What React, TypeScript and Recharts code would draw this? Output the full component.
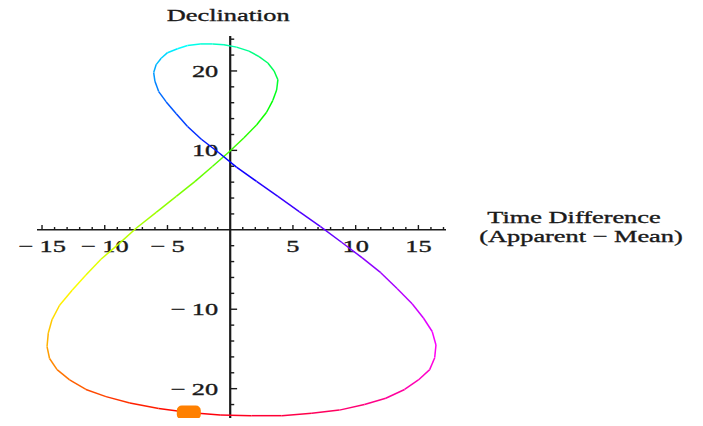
import React from 'react'
import { ScatterChart, Scatter, XAxis, YAxis, ReferenceLine, ReferenceDot } from 'recharts'

// sample dates, one every 5 days
const dates = [
  'Jan 1', 'Jan 6', 'Jan 11', 'Jan 16', 'Jan 21', 'Jan 26', 'Jan 31',
  'Feb 5', 'Feb 10', 'Feb 15', 'Feb 20', 'Feb 25',
  'Mar 2', 'Mar 7', 'Mar 12', 'Mar 17', 'Mar 22', 'Mar 27',
  'Apr 1', 'Apr 6', 'Apr 11', 'Apr 16', 'Apr 21', 'Apr 26',
  'May 1', 'May 6', 'May 11', 'May 16', 'May 21', 'May 26', 'May 31',
  'Jun 5', 'Jun 10', 'Jun 15', 'Jun 20', 'Jun 25', 'Jun 30',
  'Jul 5', 'Jul 10', 'Jul 15', 'Jul 20', 'Jul 25', 'Jul 30',
  'Aug 4', 'Aug 9', 'Aug 14', 'Aug 19', 'Aug 24', 'Aug 29',
  'Sep 3', 'Sep 8', 'Sep 13', 'Sep 18', 'Sep 23', 'Sep 28',
  'Oct 3', 'Oct 8', 'Oct 13', 'Oct 18', 'Oct 23', 'Oct 28',
  'Nov 2', 'Nov 7', 'Nov 12', 'Nov 17', 'Nov 22', 'Nov 27',
  'Dec 2', 'Dec 7', 'Dec 12', 'Dec 17', 'Dec 22', 'Dec 27',
]

// apparent - mean solar time, minutes
const timeDiff = [
  -3.3, -5.7, -8.0, -9.9, -11.5, -12.8, -13.8,
  -14.4, -14.6, -14.5, -14.2, -13.6,
  -12.6, -11.5, -10.3, -8.9, -7.5, -5.9,
  -4.3, -2.8, -1.4, -0.1, 1.1, 2.1,
  2.9, 3.4, 3.7, 3.8, 3.5, 3.0, 2.3,
  1.5, 0.5, -0.5, -1.4, -2.4, -3.4,
  -4.2, -5.0, -5.5, -5.9, -6.1, -6.0,
  -5.7, -5.1, -4.3, -3.4, -2.3, -0.9,
  0.5, 2.1, 3.8, 5.5, 7.2, 8.9,
  10.5, 12.0, 13.3, 14.5, 15.4, 16.1,
  16.4, 16.3, 15.9, 15.0, 13.9, 12.4,
  10.7, 8.7, 6.5, 4.1, 1.7, -0.8,
]

// sun declination, degrees
const declination = [
  -23.0, -22.5, -21.8, -21.0, -20.1, -18.9, -17.6,
  -16.2, -14.7, -13.0, -11.3, -9.5,
  -7.6, -5.7, -3.7, -1.8, 0.2, 2.2,
  4.2, 6.1, 8.0, 9.8, 11.6, 13.2,
  14.8, 16.3, 17.6, 18.9, 20.0, 21.0, 21.8,
  22.5, 23.0, 23.3, 23.4, 23.4, 23.2,
  22.8, 22.3, 21.6, 20.8, 19.8, 18.7,
  17.4, 16.1, 14.6, 13.0, 11.4, 9.7,
  7.9, 6.1, 4.2, 2.3, 0.4, -1.6,
  -3.5, -5.4, -7.4, -9.3, -11.1, -12.8,
  -14.5, -16.1, -17.6, -18.9, -20.1, -21.2,
  -22.0, -22.7, -23.1, -23.4, -23.4, -23.3,
]

const markerDate = 'Jan 1'

const xTicks = [-15, -14, -13, -12, -11, -10, -9, -8, -7, -6, -5, -4, -3, -2, -1, 1, 2, 3, 4, 5, 6, 7, 8, 9, 10, 11, 12, 13, 14, 15, 16, 17]
const yTicks = [-24, -22, -20, -18, -16, -14, -12, -10, -8, -6, -4, -2, 2, 4, 6, 8, 10, 12, 14, 16, 18, 20, 22, 24]
const xLabels = [-15, -10, -5, 5, 10, 15]
const yLabels = [20, 10, -10, -20]

const X_DOMAIN = [-15.4, 17.2]
const Y_DOMAIN = [-24.7, 24.4]

const INK = '#1a1a1a'
const FONT = "'Liberation Serif', 'Times New Roman', serif"

const curve = dates.map((d, i) => ({ date: d, x: timeDiff[i], y: declination[i] }))
const segments = curve.map((p, i) => [p, curve[(i + 1) % curve.length]])
const marker = curve.filter(p => p.date === markerDate)

const fmt = (v: number) => (v < 0 ? `\u2212 ${-v}` : `${v}`)

const Wide = ({ x, y, anchor, children }: any) => (
  <text
    transform={`translate(${x},${y}) scale(1.55,1)`}
    textAnchor={anchor}
    fontFamily={FONT}
    fontSize={17}
    fill={INK}
    stroke={INK}
    strokeWidth={0.35}
  >
    {children}
  </text>
)

const App = () => {
  return (
    <div style={{ width: 703, height: 426, margin: -8 }}>
      <ScatterChart width={703} height={426} margin={{ top: 36, right: 257, bottom: 0, left: 37 }}>
        <XAxis type="number" dataKey="x" domain={X_DOMAIN} allowDataOverflow hide />
        <YAxis type="number" dataKey="y" domain={Y_DOMAIN} allowDataOverflow hide />

        <ReferenceLine y={0} stroke={INK} strokeWidth={1.6} />
        <ReferenceLine x={0} stroke={INK} strokeWidth={2.2} />

        {xTicks.map(t => (
          <ReferenceLine
            key={`xt${t}`}
            segment={[{ x: t, y: 0 }, { x: t, y: t % 5 === 0 ? 0.6 : 0.35 }]}
            stroke={INK}
            strokeWidth={1.4}
          />
        ))}
        {yTicks.map(t => (
          <ReferenceLine
            key={`yt${t}`}
            segment={[{ x: 0, y: t }, { x: t % 10 === 0 ? 0.55 : 0.32, y: t }]}
            stroke={INK}
            strokeWidth={1.4}
          />
        ))}

        {xLabels.map(t => (
          <ReferenceDot
            key={`xl${t}`}
            x={t}
            y={0}
            r={0}
            shape={(p: any) => <Wide x={p.cx} y={p.cy + 22} anchor="middle">{fmt(t)}</Wide>}
          />
        ))}
        {yLabels.map(t => (
          <ReferenceDot
            key={`yl${t}`}
            x={0}
            y={t}
            r={0}
            shape={(p: any) => <Wide x={p.cx - 12} y={p.cy + 6} anchor="end">{fmt(t)}</Wide>}
          />
        ))}

        <ReferenceDot
          x={0}
          y={Y_DOMAIN[1]}
          r={0}
          ifOverflow="visible"
          shape={(p: any) => <Wide x={p.cx - 2} y={p.cy - 15.5} anchor="middle">Declination</Wide>}
        />
        <ReferenceDot
          x={X_DOMAIN[1]}
          y={0}
          r={0}
          ifOverflow="visible"
          shape={(p: any) => (
            <g>
              <Wide x={p.cx + 128} y={p.cy - 7} anchor="middle">Time Difference</Wide>
              <Wide x={p.cx + 135} y={p.cy + 12} anchor="middle">(Apparent {'\u2212'} Mean)</Wide>
            </g>
          )}
        />

        {segments.map((seg, i) => {
          const color = `hsl(${(360 * (i + 0.5)) / segments.length}, 100%, 50%)`
          return (
            <Scatter
              key={`seg${i}`}
              data={seg}
              fill={color}
              line={{ stroke: color, strokeWidth: 1.5 }}
              shape={() => <g />}
              isAnimationActive={false}
            />
          )
        })}

        <Scatter
          data={marker}
          isAnimationActive={false}
          shape={(p: any) => (
            <rect x={p.cx - 12} y={p.cy - 7} width={24} height={14} rx={5} fill="#ff8000" />
          )}
        />
      </ScatterChart>
    </div>
  )
}

export default App
